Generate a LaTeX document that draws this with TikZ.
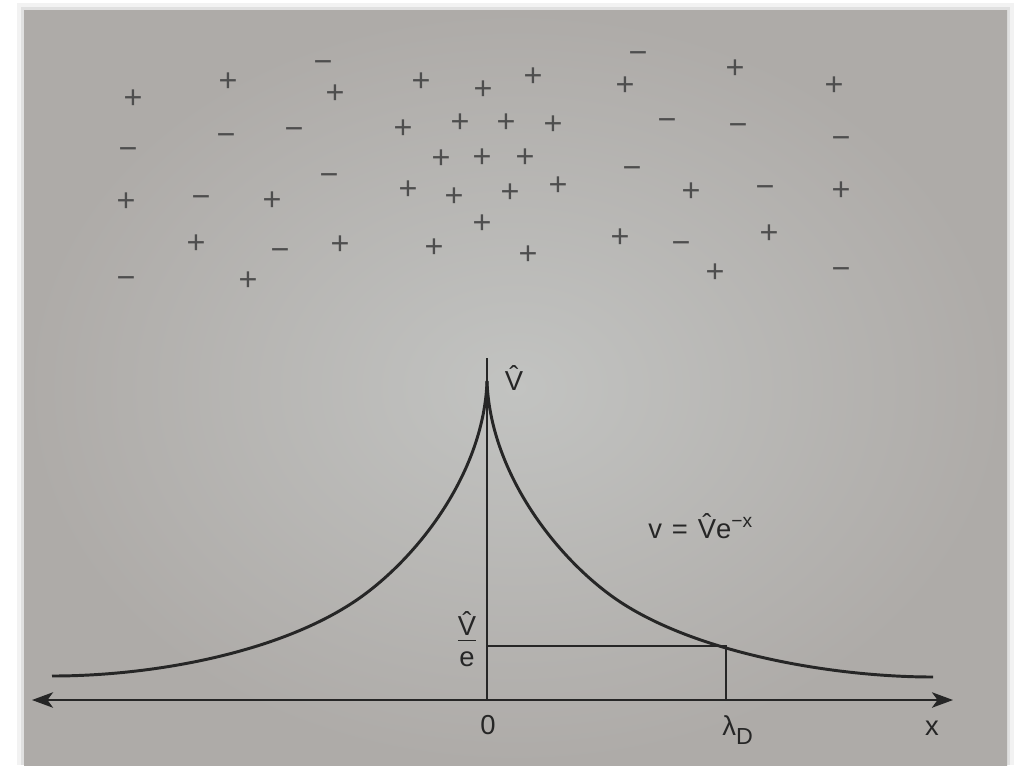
\documentclass[tikz,border=0pt]{standalone}
\usepackage{fontspec}
\setmainfont{Liberation Sans}
\usetikzlibrary{arrows.meta}

\definecolor{pagegray}{RGB}{194,195,193}
\definecolor{pageedge}{RGB}{174,171,168}
\definecolor{inkdark}{RGB}{38,38,38}
\definecolor{chargeink}{RGB}{78,78,78}

\begin{document}
\begin{tikzpicture}[
    x=0.025cm, y=-0.025cm,
    label/.style={font=\fontsize{19.5}{23}\selectfont, text=inkdark, inner sep=0pt},
    charge/.style={font=\fontsize{23}{23}\selectfont, text=chargeink, inner sep=0pt},
    curve/.style={line width=2.1pt, draw=inkdark},
    axis/.style={line width=1.4pt, draw=inkdark},
    guide/.style={line width=1pt, draw=inkdark},
    axtip/.tip={Stealth[length=15pt, width=11pt, inset=4pt]}
]
\useasboundingbox (0,0) rectangle (1016,765);

% Page and shadow
\fill[white] (0,0) rectangle (1016,765);
\fill[black, opacity=0.05] (17,3) rectangle (1014,765);
\fill[black, opacity=0.07] (21,7) rectangle (1010,765);
\shade[inner color=pagegray, outer color=pageedge] (24,10) rectangle (1007,765);

% Charges
\foreach \cx/\cy/\cs [count=\i] in {
    133/99/+, 228/82/+, 323/67/−, 335/94/+, 421/82/+, 483/90/+, 533/77/+,
    638/58/−, 625/86/+, 735/69/+, 834/86/+, 226/140/−, 294/134/−, 403/129/+,
    460/123/+, 506/123/+, 553/125/+, 667/125/−, 738/130/−, 128/154/−, 841/143/−,
    441/159/+, 482/158/+, 525/158/+, 329/180/−, 632/173/−, 126/202/+, 201/202/−,
    272/201/+, 408/190/+, 454/197/+, 510/193/+, 558/186/+, 691/192/+, 765/192/−,
    841/191/+, 482/224/+, 196/244/+, 280/255/−, 340/245/+, 434/248/+, 528/255/+,
    620/238/+, 681/248/−, 769/234/+, 715/273/+, 126/283/−, 248/281/+, 841/274/−}
    \node[charge] (q\i) at (\cx,\cy) {\cs};

% Axis points
\coordinate (xl) at (32,700);
\coordinate (xr) at (953,700);
\coordinate (o) at (487,700);
\coordinate (ytop) at (487,358);
\coordinate (peak) at (487,381);
\coordinate (lev) at (487,646);
\coordinate (hit) at (726,646);
\coordinate (ld) at (726,700);

% Axes
\draw[axis, axtip-axtip] (xl) -- (xr);
\draw[axis] (o) -- (ytop);
\draw[guide] (lev) -- (hit) -- (ld);

% Potential curves
\draw[curve] (peak) .. controls (490,470) and (553,554) .. (613,597)
    .. controls (690,652) and (830,677) .. (933,677);
\draw[curve] (peak) .. controls (484,470) and (421,554) .. (361,597)
    .. controls (284,652) and (155,676) .. (52,676);

% Labels
\node[label, anchor=base] (vhat) at (514,390) {\^{V}};
\node[label] (vfrac) at (467,639) {$\frac{\mbox{\^{V}}}{\mbox{\rule{0pt}{18pt}e}}$};
\node[label, anchor=base] (zero) at (488,734) {0};
\node[label, anchor=base west] (lambdaD) at (722,735) {λ\raisebox{-6.4pt}{\fontsize{16.5}{16.5}\selectfont D}};
\node[label, anchor=base] (xlab) at (932,735) {x};
\node[label, anchor=base west] (formula) at (648,538) {v\hspace{0.36em}=\hspace{0.36em}\^{V}e\textsuperscript{−x}};

\end{tikzpicture}
\end{document}
